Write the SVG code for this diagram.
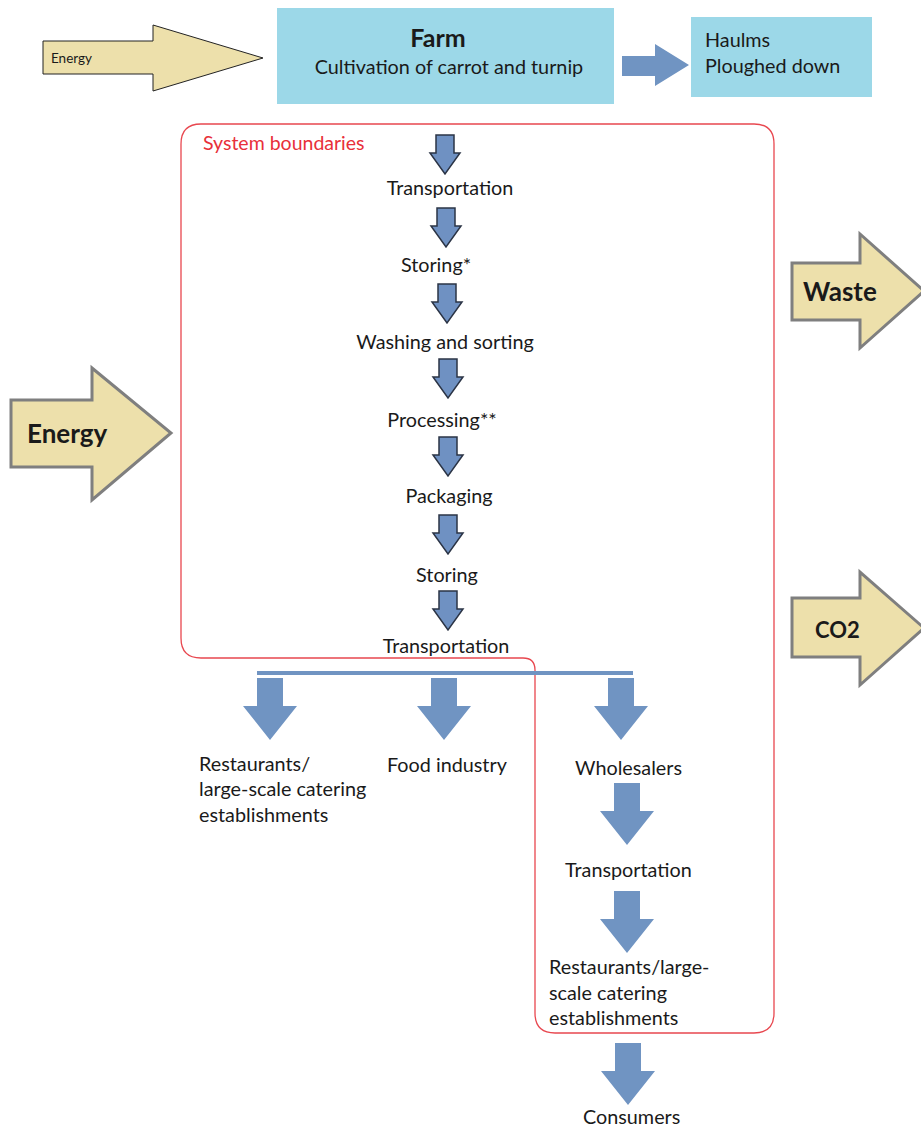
<svg xmlns="http://www.w3.org/2000/svg" width="921" height="1127" viewBox="0 0 921 1127">
<defs>
<style>
text{font-family:Lato,"Liberation Sans",sans-serif;fill:#1a1a1a}
.t{font-size:19.8px}
.c{text-anchor:middle}
.b{font-weight:bold}
.box{fill:#9cd8e8}
.yel{fill:#ede0ab;stroke:#7f7f7f;stroke-width:3;stroke-linejoin:miter}
.sm{fill:#6f91c2;stroke:#2b3445;stroke-width:1.5}
.big{fill:#7094c2}
</style>
<path id="sa" d="M-9,0 H9 V18 H15 L0,39 L-15,18 H-9 Z"/>
<path id="ba" d="M-13,0 H13 V28 H27 L0,62 L-27,28 H-13 Z"/>
</defs>

<g id="energy-small">
<path d="M43,41 H153 V25 L263,58 L153,91 V74 H43 Z" fill="#ede0ab" stroke="#222" stroke-width="1"/>
<text x="51" y="63" style="font-size:13.5px">Energy</text>
</g>

<g id="farm">
<rect class="box" x="277" y="8" width="337" height="96"/>
<text x="438" y="47" class="c b" style="font-size:25px">Farm</text>
<text x="449" y="74" class="c t">Cultivation of carrot and turnip</text>
</g>

<g id="haulms">
<rect class="box" x="691" y="17" width="181" height="80"/>
<text x="705" y="47" class="t">Haulms</text>
<text x="705" y="73" class="t">Ploughed down</text>
</g>

<g id="energy-big">
<path class="yel" d="M11,400 H92 V368 L171,433 L92,500 V467 H11 Z"/>
<text x="27" y="443" class="b" style="font-size:26px">Energy</text>
</g>

<g id="waste">
<path class="yel" d="M792,263 H860 V234 L924,291 L860,348 V320 H792 Z"/>
<text x="803" y="301" class="b" style="font-size:26px">Waste</text>
</g>

<g id="co2">
<path class="yel" d="M792,598 H860 V572 L924,628 L860,685 V657 H792 Z"/>
<text x="815" y="638" class="b" style="font-size:22px">CO2</text>
</g>

<g id="system-boundary">
<path d="M201,124 H754 Q774,124 774,144 V1013 Q774,1033 754,1033 H555 Q535,1033 535,1013 V670 Q535,658 523,658 H201 Q181,658 181,638 V144 Q181,124 201,124 Z" fill="none" stroke="#e8474f" stroke-width="1.3"/>
<text x="203" y="150" style="fill:#e8303a;font-size:19.5px">System boundaries</text>
</g>

<g id="steps">
<text x="450" y="195" class="c t">Transportation</text>
<text x="436" y="272" class="c t">Storing*</text>
<text x="445" y="349" class="c t">Washing and sorting</text>
<text x="442" y="427" class="c t">Processing**</text>
<text x="449" y="503" class="c t">Packaging</text>
<text x="447" y="582" class="c t">Storing</text>
<text x="446" y="653" class="c t">Transportation</text>
</g>

<g id="outlets">
<text x="199" y="771" class="t">Restaurants/</text>
<text x="199" y="796" class="t">large-scale catering</text>
<text x="199" y="822" class="t">establishments</text>
<text x="387" y="772" class="t">Food industry</text>
<text x="575" y="775" class="t">Wholesalers</text>
<text x="565" y="877" class="t">Transportation</text>
<text x="549" y="974" class="t">Restaurants/large-</text>
<text x="549" y="1000" class="t">scale catering</text>
<text x="549" y="1025" class="t">establishments</text>
<text x="583" y="1124" class="t">Consumers</text>
</g>

<g id="connectors">
<path class="big" d="M622,56 H655 V44 L689,65 L655,86 V76 H622 Z"/>
<use href="#sa" class="sm" x="445" y="135"/>
<use href="#sa" class="sm" x="446" y="208"/>
<use href="#sa" class="sm" x="447" y="284"/>
<use href="#sa" class="sm" x="448" y="359"/>
<use href="#sa" class="sm" x="448" y="437"/>
<use href="#sa" class="sm" x="448" y="515"/>
<use href="#sa" class="sm" x="448" y="591"/>
<line x1="257" y1="673" x2="633" y2="673" stroke="#7094c2" stroke-width="4"/>
<use href="#ba" class="big" x="270" y="678"/>
<use href="#ba" class="big" x="444" y="678"/>
<use href="#ba" class="big" x="621" y="678"/>
<use href="#ba" class="big" x="627" y="783"/>
<use href="#ba" class="big" x="627" y="891"/>
<use href="#ba" class="big" x="628" y="1043"/>
</g>
</svg>
